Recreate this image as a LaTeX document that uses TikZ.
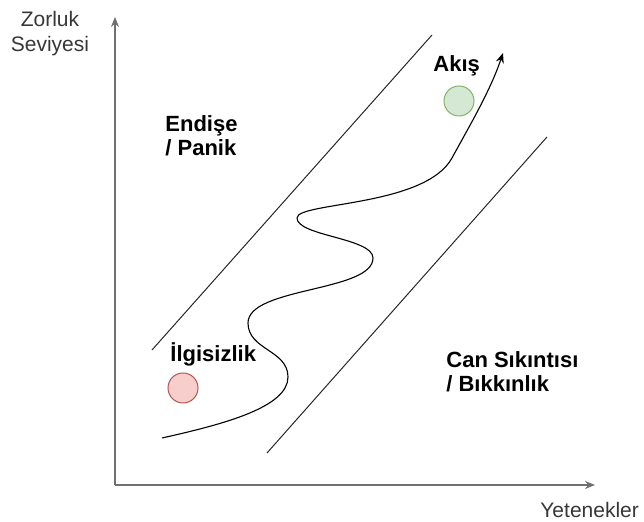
\documentclass[tikz,border=0pt]{standalone}
\usepackage{fontspec}
\setmainfont{Liberation Sans}
\usetikzlibrary{arrows.meta}
\definecolor{axisgray}{RGB}{112,112,112}
\definecolor{labelgray}{RGB}{55,55,55}
\definecolor{linegray}{RGB}{40,40,40}
\definecolor{greenfill}{RGB}{213,232,212}
\definecolor{greenline}{RGB}{130,179,102}
\definecolor{redfill}{RGB}{248,206,204}
\definecolor{redline}{RGB}{184,84,80}

\begin{document}
\begin{tikzpicture}[x=0.5pt,y=0.5pt,font=\fontsize{10.5}{12.5}\selectfont,
  zone/.style={font=\fontsize{11}{12.25}\selectfont\bfseries,inner sep=0pt,align=left},
  axislabel/.style={text=labelgray,inner sep=0pt,align=center},
  dot/.style={circle,minimum size=15pt,inner sep=0pt,line width=0.5pt},
  tip/.style={-{Stealth[length=5pt,width=4pt]}}]
  \useasboundingbox (0,0) rectangle (644,522);

  % axes
  \coordinate (o) at (115,37);
  \coordinate (ytop) at (115,505);
  \coordinate (xend) at (595,37);
  \draw [tip,axisgray,line width=0.8pt] (o) -- (ytop);
  \draw [tip,axisgray,line width=0.8pt] (o) -- (xend);
  \node [axislabel,anchor=base] (ylab) at (50,470) {Zorluk\\Seviyesi};
  \node [axislabel,anchor=base west] (xlab) at (540,4) {Yetenekler};

  % channel borders
  \coordinate (up-a) at (152,172);
  \coordinate (up-b) at (432,487);
  \coordinate (lo-a) at (267,69);
  \coordinate (lo-b) at (547,385);
  \draw [linegray,line width=0.5pt] (up-a) -- (up-b);
  \draw [linegray,line width=0.5pt] (lo-a) -- (lo-b);

  % flow path
  \coordinate (c-start) at (162,84);
  \coordinate (c-tip) at (503,469);
  \draw [tip,black,line width=0.55pt] (c-start)
    .. controls (225,98) and (288,115) .. (288,145)
    .. controls (288,172) and (248,172) .. (248,199)
    .. controls (248,235) and (373,230) .. (373,264)
    .. controls (373,284) and (297,286) .. (297,304)
    .. controls (297,320) and (425,315) .. (452,364)
    .. controls (466,390) and (490,430) .. (c-tip);

  % states
  \node [dot,draw=greenline,fill=greenfill] (flow) at (459,421) {};
  \node [dot,draw=redline,fill=redfill] (apathy) at (183,134) {};

  \node [zone,anchor=base west] (akis) at (433,450) {Akış};
  \node [zone,anchor=base west] (endise) at (165,366) {Endişe\\/ Panik};
  \node [zone,anchor=base west] (ilgi) at (170,160) {İlgisizlik};
  \node [zone,anchor=base west] (can) at (446,130) {Can Sıkıntısı\\/ Bıkkınlık};
\end{tikzpicture}
\end{document}
